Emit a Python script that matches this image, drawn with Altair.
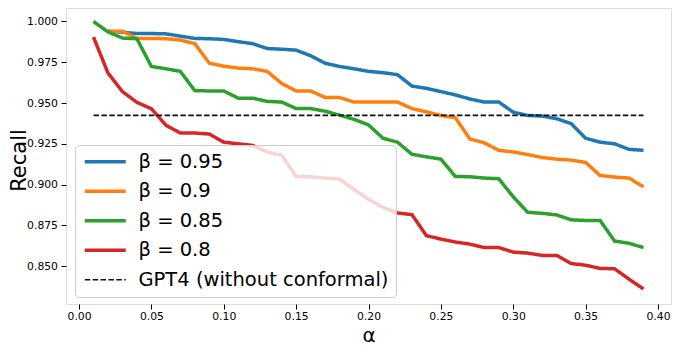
import altair as alt
import pandas as pd

alphas = [round(0.01 * k, 2) for k in range(1, 40)]

beta095 = [None, 0.994, 0.9934, 0.9926, 0.9926, 0.9924, 0.991, 0.9896, 0.9894, 0.989,
           0.9876, 0.9864, 0.9834, 0.9830, 0.9824, 0.979, 0.9744, 0.9724, 0.971, 0.9694,
           0.9686, 0.9674, 0.9604, 0.959, 0.957, 0.955, 0.9525, 0.9506, 0.9506, 0.9444,
           0.9424, 0.942, 0.9404, 0.9374, 0.9284, 0.926, 0.925, 0.9216, 0.921]
beta090 = [None, 0.994, 0.994, 0.9896, 0.9896, 0.9894, 0.9886, 0.9864, 0.9744, 0.9726,
           0.9714, 0.971, 0.9694, 0.962, 0.9574, 0.9574, 0.9534, 0.9534, 0.9506, 0.9506,
           0.9506, 0.9506, 0.9466, 0.9446, 0.9424, 0.941, 0.928, 0.9256, 0.921, 0.920,
           0.9184, 0.9166, 0.9156, 0.915, 0.9136, 0.9056, 0.9046, 0.904, 0.8986]
beta085 = [1.000, 0.9936, 0.9898, 0.9894, 0.9724, 0.971, 0.9694, 0.9576, 0.9574, 0.9574,
           0.953, 0.953, 0.951, 0.9506, 0.9466, 0.9466, 0.945, 0.9426, 0.940, 0.9366,
           0.9284, 0.926, 0.9186, 0.917, 0.9156, 0.905, 0.9048, 0.904, 0.9036, 0.8925,
           0.883, 0.8824, 0.8814, 0.8784, 0.878, 0.878, 0.8654, 0.864, 0.8614]
beta080 = [0.9904, 0.9684, 0.957, 0.9504, 0.9465, 0.9364, 0.9316, 0.9316, 0.931, 0.926,
           0.925, 0.924, 0.920, 0.918, 0.905, 0.9048, 0.904, 0.9034, 0.897, 0.891,
           0.886, 0.8826, 0.8816, 0.8687, 0.8666, 0.8648, 0.8635, 0.8614, 0.8614, 0.8586,
           0.858, 0.8566, 0.8566, 0.8516, 0.8506, 0.8486, 0.8484, 0.842, 0.836]
gpt4_alpha = [0.01, 0.39]
gpt4_recall = [0.9424, 0.9424]

series_names = ["β = 0.95", "β = 0.9", "β = 0.85", "β = 0.8", "GPT4 (without conformal)"]
series_colors = ["#1f77b4", "#ff7f0e", "#2ca02c", "#d62728", "#111111"]
series_dash = [[1, 0], [1, 0], [1, 0], [1, 0], [5.5, 2.4]]
series_width = [3.5, 3.5, 3.5, 3.5, 1.6]

x_ticks = [0.0, 0.05, 0.10, 0.15, 0.20, 0.25, 0.30, 0.35, 0.40]
y_ticks = [0.850, 0.875, 0.900, 0.925, 0.950, 0.975, 1.000]

rows = []
for name, vals in zip(series_names[:4], [beta095, beta090, beta085, beta080]):
    for a, v in zip(alphas, vals):
        if v is not None:
            rows.append({"series": name, "alpha": a, "recall": v})
for a, v in zip(gpt4_alpha, gpt4_recall):
    rows.append({"series": series_names[4], "alpha": a, "recall": v})
df = pd.DataFrame(rows)

font = "DejaVu Sans"


def make_legend():
    return alt.Legend(title=None, orient="none", legendX=9, legendY=137,
                      symbolType="M-1,0H4.857", symbolSize=196,
                      labelOffset=37, labelFontSize=19.5, labelFont=font,
                      labelColor="black", labelLimit=400,
                      fillColor="rgba(255,255,255,0.8)",
                      strokeColor="#cccccc", cornerRadius=4,
                      padding=7, rowPadding=8.5)


chart = alt.Chart(df).mark_line().encode(
    x=alt.X("alpha:Q",
            scale=alt.Scale(domain=[-0.009, 0.409], nice=False, zero=False),
            axis=alt.Axis(values=x_ticks, format=".2f", title="α", grid=False,
                          domain=False, tickSize=5, tickColor="black",
                          labelFontSize=10.8, labelColor="black", labelFont=font,
                          labelPadding=1, titleFont=font, titleFontSize=20,
                          titleFontWeight="normal", titleColor="black",
                          titleY=37, titleBaseline="alphabetic")),
    y=alt.Y("recall:Q",
            scale=alt.Scale(domain=[0.8268, 1.00825], nice=False, zero=False),
            axis=alt.Axis(values=y_ticks, format=".3f", title="Recall", grid=False,
                          domain=False, tickSize=5, tickColor="black",
                          labelFontSize=10.8, labelColor="black", labelFont=font,
                          labelPadding=3.5, titleFont=font, titleFontSize=21,
                          titleFontWeight="normal", titleColor="black",
                          titleX=-41, titleY=152, titleAngle=270,
                          titleAlign="center", titleBaseline="alphabetic")),
    color=alt.Color("series:N",
                    scale=alt.Scale(domain=series_names, range=series_colors),
                    sort=series_names, legend=make_legend()),
    strokeDash=alt.StrokeDash("series:N",
                              scale=alt.Scale(domain=series_names, range=series_dash),
                              sort=series_names, legend=make_legend()),
    strokeWidth=alt.StrokeWidth("series:N",
                                scale=alt.Scale(type="ordinal", domain=series_names, range=series_width),
                                sort=series_names, legend=make_legend()),
).properties(
    width=605, height=296,
    padding={"left": 58, "top": 0, "right": 3, "bottom": 43},
    autosize=alt.AutoSizeParams(type="none"),
).configure_view(
    stroke="#222222", strokeWidth=1.2
).configure(background="white")

chart.save("out.html", embed_options={"renderer": "svg", "actions": False})
